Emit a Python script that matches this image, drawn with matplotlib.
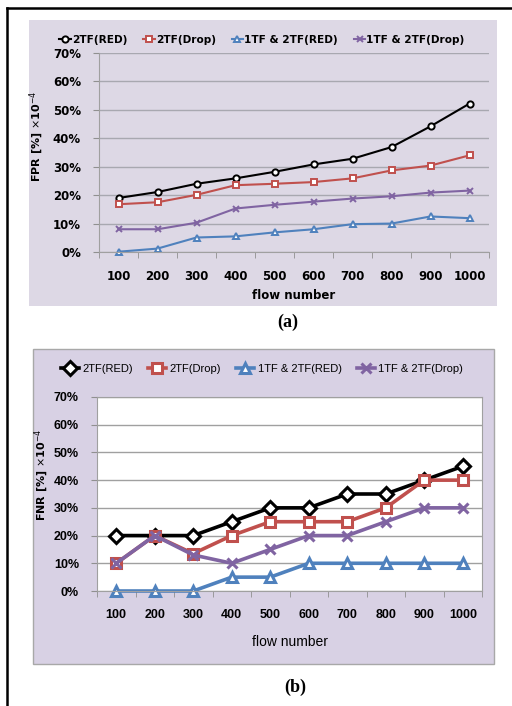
import numpy as np
import matplotlib
matplotlib.use('Agg')
import matplotlib.pyplot as plt
from matplotlib.patches import Rectangle
from matplotlib.lines import Line2D

flows = ['100', '200', '300', '400', '500', '600', '700', '800', '900', '1000']
series_names = ['2TF(RED)', '2TF(Drop)', '1TF & 2TF(RED)', '1TF & 2TF(Drop)']

# panel (a): FPR
fpr_red = [19.0, 21.1, 24.0, 25.9, 28.2, 30.8, 32.8, 36.9, 44.2, 52.2]
fpr_drop = [16.8, 17.5, 20.1, 23.5, 24.0, 24.6, 25.9, 28.7, 30.4, 34.0]
fpr_1tf_red = [0.1, 1.2, 5.1, 5.5, 6.9, 8.0, 9.8, 10.0, 12.5, 11.9]
fpr_1tf_drop = [8.0, 8.0, 10.3, 15.3, 16.6, 17.7, 18.8, 19.6, 20.9, 21.6]

# panel (b): FNR
fnr_red = [20, 20, 20, 25, 30, 30, 35, 35, 40, 45]
fnr_drop = [10, 20, 13.5, 20, 25, 25, 25, 30, 40, 40]
fnr_1tf_red = [0, 0, 0, 5, 5, 10, 10, 10, 10, 10]
fnr_1tf_drop = [10, 20, 13, 10, 15, 20, 20, 25, 30, 30]

colors = ['black', '#C0504D', '#4F81BD', '#8064A2']
markers_a = ['o', 's', '^', 'x']
markers_b = ['D', 's', '^', 'x']
NARROW = 'Liberation Sans'

W, H = 512, 706
fig = plt.figure(figsize=(W / 100, H / 100), dpi=100)


def fx(px):
    return px / W


def fy(py):
    return 1 - py / H


# outer frame (left and top lines)
fig.add_artist(Line2D([fx(7), fx(7)], [fy(8), 0], color='black', lw=1.8,
                      transform=fig.transFigure))
fig.add_artist(Line2D([fx(7), 1], [fy(8), fy(8)], color='black', lw=1.8,
                      transform=fig.transFigure))

# lavender backgrounds
fig.add_artist(Rectangle((fx(29), fy(306)), fx(468), 286 / H, transform=fig.transFigure,
                         facecolor='#DDD8E5', edgecolor='none', zorder=0))
fig.add_artist(Rectangle((fx(33), fy(664)), fx(461), 315 / H, transform=fig.transFigure,
                         facecolor='#D8D1E4', edgecolor='#A8A8A8', lw=1, zorder=0))

x = np.arange(len(flows))
pct_labels = ['%d%%' % v for v in range(0, 80, 10)]


def style_axes(ax, grid_color, size, family):
    ax.set_xlim(-0.5, len(flows) - 0.5)
    ax.set_ylim(0, 70)
    ax.set_yticks(range(0, 80, 10))
    ax.set_yticklabels(pct_labels)
    ax.set_xticks(x)
    ax.set_xticklabels(flows)
    ax.set_xticks(np.arange(-0.5, len(flows)), minor=True)
    ax.tick_params(axis='x', which='major', length=0, pad=13)
    ax.tick_params(axis='x', which='minor', length=4, color='#909090', direction='out')
    ax.tick_params(axis='y', length=4, color='#909090', pad=9)
    ax.yaxis.grid(True, color=grid_color, lw=1)
    ax.set_axisbelow(True)
    for lab in ax.get_xticklabels() + ax.get_yticklabels():
        lab.set_fontweight('bold')
        lab.set_fontsize(size)
        lab.set_family(family)


# ---- panel (a)
ax1 = fig.add_axes([fx(99), fy(252), fx(390), 199 / H])
ax1.set_facecolor('none')
for s in ['top', 'right']:
    ax1.spines[s].set_visible(False)
for s in ['left', 'bottom']:
    ax1.spines[s].set_color('#A0A0A0')
style_axes(ax1, '#A8A8B0', 8.5, 'DejaVu Sans')
data_a = [fpr_red, fpr_drop, fpr_1tf_red, fpr_1tf_drop]
handles_a = []
for vals, c, m in zip(data_a, colors, markers_a):
    h, = ax1.plot(x, vals, color=c, lw=1.5, marker=m, ms=4.5,
                  mfc='white' if m != 'x' else c, mec=c, mew=1.4, clip_on=False)
    handles_a.append(h)
ax1.set_xlabel('flow number', fontsize=8.5, fontweight='bold', labelpad=4)
ax1.set_ylabel(r'FPR [%] $\times$10$^{-4}$', fontsize=8, fontweight='bold')
ax1.yaxis.set_label_coords(-0.135, 0.58)
fig.legend(handles_a, series_names, loc='center', bbox_to_anchor=(fx(262), fy(40)),
           ncol=4, frameon=False, handlelength=1.1, handletextpad=0.1,
           columnspacing=1.5, prop={'weight': 'bold', 'size': 7.6})
fig.text(fx(288), fy(322), '(a)', ha='center', va='center', fontsize=13,
         fontweight='bold', family='Liberation Serif')

# ---- panel (b)
ax2 = fig.add_axes([fx(97), fy(591), fx(385), 194 / H])
ax2.set_facecolor('white')
for s in ax2.spines.values():
    s.set_color('#A0A0A0')
style_axes(ax2, '#A0A0A0', 9, NARROW)
data_b = [fnr_red, fnr_drop, fnr_1tf_red, fnr_1tf_drop]
handles_b = []
for vals, c, m in zip(data_b, colors, markers_b):
    h, = ax2.plot(x, vals, color=c, lw=2.6, marker=m, ms=7 if m != 's' else 7.5,
                  mfc='white' if m != 'x' else c, mec=c, mew=2.2, clip_on=False)
    handles_b.append(h)
ax2.set_xlabel('flow number', fontsize=10, family=NARROW, labelpad=10)
ax2.set_ylabel(r'FNR [%] $\times$10$^{-4}$', fontsize=8, fontweight='bold')
ax2.yaxis.set_label_coords(-0.12, 0.6)
fig.legend(handles_b, series_names, loc='center', bbox_to_anchor=(fx(262), fy(369)),
           ncol=4, frameon=False, handlelength=1.6, handletextpad=0.3,
           columnspacing=1.4, prop={'family': NARROW, 'size': 8})
fig.text(fx(295), fy(687), '(b)', ha='center', va='center', fontsize=13,
         fontweight='bold', family='Liberation Serif')

fig.savefig('out.png', dpi=100)
